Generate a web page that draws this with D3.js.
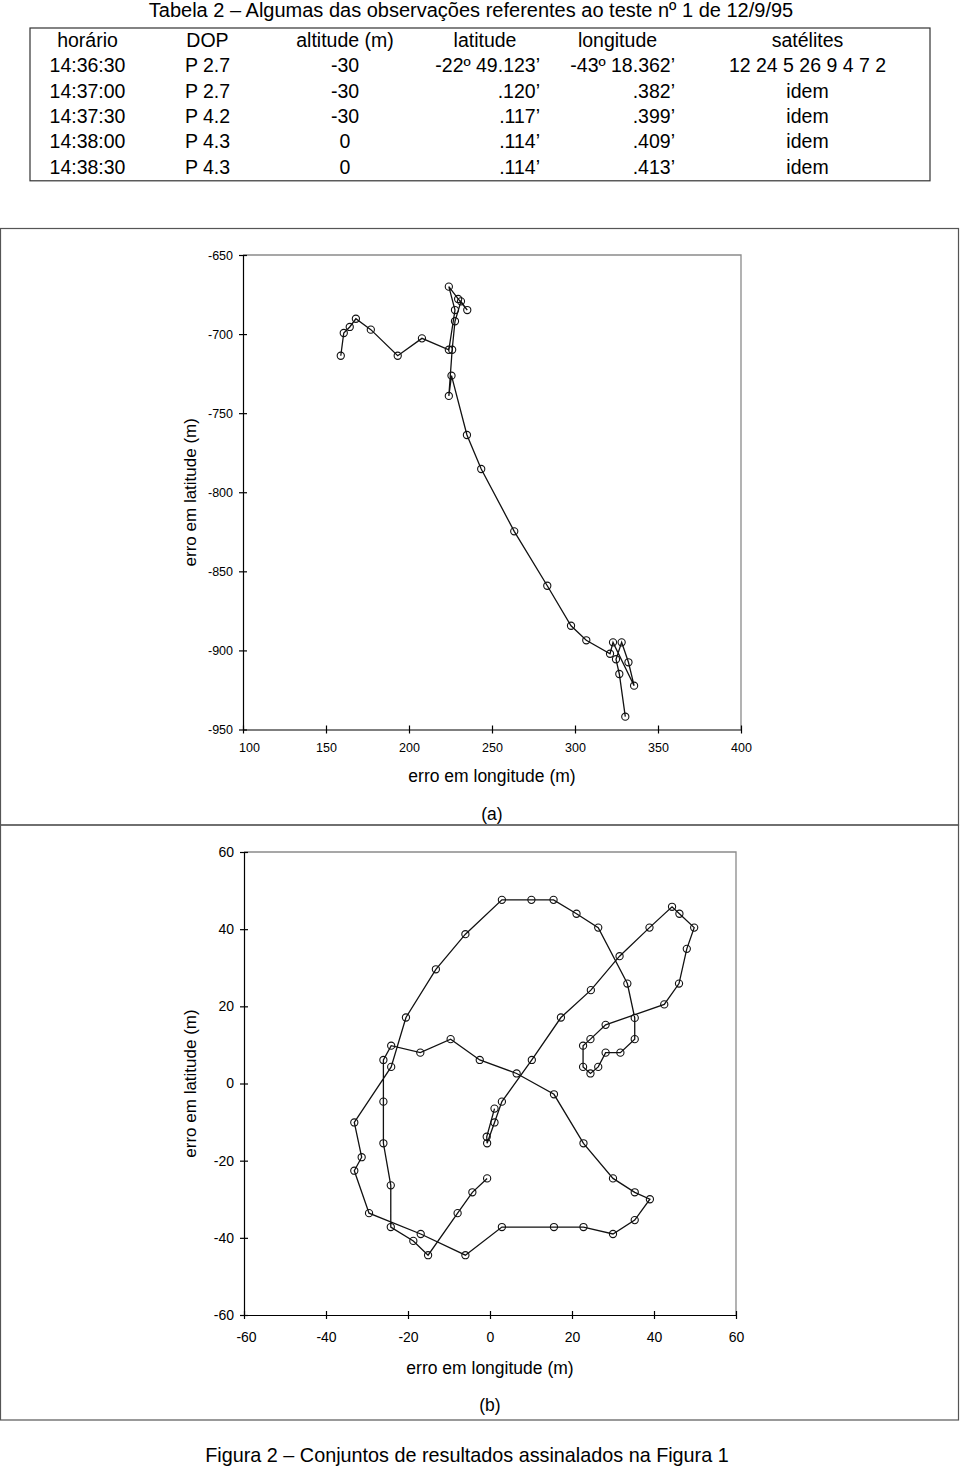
<!DOCTYPE html>
<html><head><meta charset="utf-8">
<script src="https://cdn.jsdelivr.net/npm/d3@7"></script>
<style>
body{margin:0;background:#fff}
svg text{font-family:"Liberation Sans",Arial,sans-serif;fill:#000}
</style>
</head><body>
<svg id="c" width="960" height="1466"></svg>
<script>
// ---------- data ----------
const tableTitle = "Tabela 2 – Algumas das observações referentes ao teste nº 1 de 12/9/95";
const tableHeaders = ["horário","DOP","altitude (m)","latitude","longitude","satélites"];
const horario = ["14:36:30","14:37:00","14:37:30","14:38:00","14:38:30"];
const dop = ["P 2.7","P 2.7","P 4.2","P 4.3","P 4.3"];
const altitude = ["-30","-30","-30","0","0"];
const latitude = ["-22º 49.123’",".120’",".117’",".114’",".114’"];
const longitude = ["-43º 18.362’",".382’",".399’",".409’",".413’"];
const satelites = ["12 24 5 26 9 4 7 2","idem","idem","idem","idem"];

// panel (a): error in longitude (m) / error in latitude (m)
const lonErrA = [158.9,160.7,164.3,168.0,177.0,193.2,207.8,224.0,227.7,224.0,229.6,235.1,231.3,227.7,226.0,224.0,225.6,
  234.9,243.5,263.4,283.3,297.6,306.8,321.1,322.9,335.6,332.2,328.1,324.7,326.7,330.3];
const latErrA = [-713.7,-699.3,-695.5,-690.3,-697.2,-713.7,-702.7,-709.9,-684.8,-670.0,-677.8,-684.8,-679.3,-691.9,-709.9,-739.1,-726.3,
  -763.8,-785.3,-824.7,-859.1,-884.4,-893.6,-902.1,-894.9,-922.3,-907.5,-894.9,-905.6,-914.9,-941.9];

// panel (b)
const lonErrB = [-0.7,-4.3,-7.9,-15.1,-18.7,-24.2,-24.2,-26.0,-26.0,-26.0,-24.1,-17.0,-9.6,-2.5,6.5,15.6,22.8,30.0,35.3,39.0,
  35.3,30.0,22.8,15.6,2.9,-6.0,-16.9,-29.5,-33.1,-31.3,-33.1,-24.1,-20.5,-13.2,-6.0,2.9,10.1,15.5,21.1,26.4,33.5,35.3,
  35.3,31.8,28.2,26.4,24.5,22.7,22.7,24.5,28.2,
  42.5,46.1,48.0,49.8,46.2,44.4,38.9,31.6,24.6,17.3,10.2,2.9,1.1,-0.7,-0.8,1.1];
const latErrB = [-24.6,-28.2,-33.6,-44.5,-40.8,-37.2,-26.4,-15.5,-4.7,6.1,9.8,8.0,11.5,6.1,2.6,-2.8,-15.5,-24.6,-28.2,-30.0,
  -35.4,-39.0,-37.2,-37.2,-37.2,-44.5,-39.0,-33.6,-22.6,-19.1,-10.1,4.3,17.1,29.6,38.7,47.6,47.6,47.6,44.0,40.4,25.9,17.0,
  11.5,8.0,8.0,4.3,2.6,4.3,9.8,11.5,15.2,
  20.5,25.9,34.9,40.4,44.0,45.8,40.4,33.0,24.2,17.1,6.1,-4.7,-10.1,-15.5,-13.8,-6.5];

const ticksAX = [100,150,200,250,300,350,400];
const ticksAY = [-650,-700,-750,-800,-850,-900,-950];
const ticksBX = [-60,-40,-20,0,20,40,60];
const ticksBY = [60,40,20,0,-20,-40,-60];
const xTitle = "erro em longitude (m)";
const yTitle = "erro em latitude (m)";
const caption = "Figura 2 – Conjuntos de resultados assinalados na Figura 1";

// ---------- drawing ----------
const svg = d3.select("#c");
const FONT = '"Liberation Sans",Arial,sans-serif';
const fmt = d => String(d);

// table
svg.append("text").attr("x",471).attr("y",17).attr("text-anchor","middle")
  .style("font-size","20px").text(tableTitle);
const colEdges = [30,145,270,420,550,685,930];
const rowTop = 28, rowH = 25.3;
const rows = d3.range(horario.length).map(i => [horario[i],dop[i],altitude[i],latitude[i],longitude[i],satelites[i]]);
svg.append("rect").attr("x",colEdges[0]).attr("y",rowTop)
  .attr("width",colEdges[6]-colEdges[0]).attr("height",rowH*6+1)
  .attr("fill","none").attr("stroke","#333").attr("stroke-width",1.2);
const tcell = (txt, col, row, rightAlign) => {
  const t = svg.append("text").style("font-size","19.5px")
    .attr("y", rowTop + rowH*row + rowH/2 + 6.5);
  if (rightAlign) t.attr("x", colEdges[col+1]-10).attr("text-anchor","end");
  else t.attr("x", (colEdges[col]+colEdges[col+1])/2).attr("text-anchor","middle");
  t.text(txt);
};
tableHeaders.forEach((h,c) => tcell(h,c,0,false));
rows.forEach((r,ri) => r.forEach((v,c) => tcell(v,c,ri+1,(c===3||c===4))));

// figure boxes
const boxStroke = "#555";
svg.append("rect").attr("x",0.5).attr("y",228.5).attr("width",958).attr("height",596.5)
  .attr("fill","none").attr("stroke",boxStroke).attr("stroke-width",1.2);
svg.append("rect").attr("x",0.5).attr("y",825).attr("width",958).attr("height",595)
  .attr("fill","none").attr("stroke",boxStroke).attr("stroke-width",1.2);

function panel(o) {
  const x = d3.scaleLinear().domain(o.xd).range([o.l,o.r]);
  const y = d3.scaleLinear().domain(o.yd).range([o.b,o.t]);
  const g = svg.append("g");
  // frame top/right (gray)
  g.append("path").attr("d",`M${o.l},${o.t}H${o.r}V${o.b}`).attr("fill","none")
    .attr("stroke","#8a8a8a").attr("stroke-width",1.3);
  const ax = g.append("g").attr("transform",`translate(0,${o.b})`)
    .call(d3.axisBottom(x).tickValues(o.xt).tickSizeInner(4).tickSizeOuter(0).tickPadding(o.xpad).tickFormat(fmt));
  const ay = g.append("g").attr("transform",`translate(${o.l},0)`)
    .call(d3.axisLeft(y).tickValues(o.yt).tickSizeInner(4).tickSizeOuter(0).tickPadding(6).tickFormat(fmt));
  [ax,ay].forEach(a => {
    a.select(".domain").attr("stroke","#000").attr("stroke-width",1.2);
    a.selectAll(".tick line").attr("stroke","#000").attr("stroke-width",1.2);
    a.selectAll("text").style("font-family",FONT).style("font-size",o.fs+"px").attr("fill","#000");
  });
  ax.selectAll(".tick line").attr("y1",-4);
  ay.selectAll(".tick line").attr("x1",4);
  ax.selectAll(".tick text").filter((d,i)=>i===0).attr("dx",o.firstDx);
  // line + markers
  const pts = o.xs.map((v,i)=>[v,o.ys[i]]);
  g.append("path").datum(pts)
    .attr("d",d3.line().x(d=>x(d[0])).y(d=>y(d[1])))
    .attr("fill","none").attr("stroke","#111").attr("stroke-width",1.3);
  g.selectAll("circle.m").data(pts).join("circle").attr("class","m")
    .attr("cx",d=>x(d[0])).attr("cy",d=>y(d[1])).attr("r",3.6)
    .attr("fill","none").attr("stroke","#111").attr("stroke-width",1.1);
  // titles
  g.append("text").attr("x",(o.l+o.r)/2).attr("y",o.b+o.tdy).attr("text-anchor","middle")
    .style("font-size","17.5px").text(xTitle);
  g.append("text").attr("transform",`translate(196,${(o.t+o.b)/2}) rotate(-90)`)
    .attr("text-anchor","middle").style("font-size","17px").text(yTitle);
  g.append("text").attr("x",(o.l+o.r)/2).attr("y",o.b+o.ldy).attr("text-anchor","middle")
    .style("font-size","17.5px").text(o.label);
}

panel({xd:[100,400], yd:[-950,-650], l:243, r:741, t:255, b:729.5,
  xt:ticksAX, yt:ticksAY, xs:lonErrA, ys:latErrA, fs:12.5, xpad:10, firstDx:6, label:"(a)", tdy:52, ldy:90});
panel({xd:[-60,60], yd:[-60,60], l:244, r:736, t:852, b:1315,
  xt:ticksBX, yt:ticksBY, xs:lonErrB, ys:latErrB, fs:14, xpad:13, firstDx:2, label:"(b)", tdy:59, ldy:96});

svg.append("text").attr("x",467).attr("y",1462).attr("text-anchor","middle")
  .style("font-size","19.8px").text(caption);
</script>
</body></html>
